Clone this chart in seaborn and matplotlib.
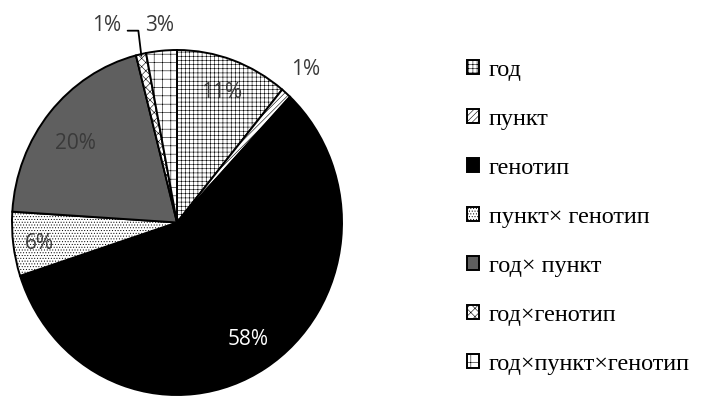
import matplotlib
matplotlib.use("Agg")
import matplotlib.pyplot as plt
import seaborn as sns
import numpy as np

# ---- data ----
categories = ["год", "пункт", "генотип", "пункт× генотип", "год× пункт",
              "год×генотип", "год×пункт×генотип"]
shares = [11, 1, 58, 6, 20, 1, 3]
pct_labels = ["11%", "1%", "58%", "6%", "20%", "1%", "3%"]

# ---- styles ----
face_colors = ["white", "white", "black", "white", "#5f5f5f", "white", "white"]
hatches = ["++++", "//////", None, "......", None, "xxxx", "++"]
label_radius = [0.80, 1.18, 0.80, 0.84, 0.77, 1.22, 1.145]
label_angle_shift = [0, 0, 0, -1, -3, -8, 0]   # degrees (clockwise)
label_colors = ["#3a3a3a", "#3a3a3a", "white", "#3a3a3a", "#3a3a3a", "#3a3a3a", "#3a3a3a"]

sns.set_theme(style="white")
plt.rcParams["font.family"] = ["Open Sans", "DejaVu Sans"]
plt.rcParams["hatch.linewidth"] = 0.4
plt.rcParams["hatch.color"] = "black"

W, H = 704, 397
fig = plt.figure(figsize=(W / 100, H / 100), dpi=100)
fig.patch.set_facecolor("white")

# pie area in pixel coordinates (left, top, right, bottom)
px_l, px_t, px_r, px_b = 12, 50, 342, 395
ax = fig.add_axes([px_l / W, 1 - px_b / H, (px_r - px_l) / W, (px_b - px_t) / H])
ax.set_axis_off()

wedges, _ = ax.pie(shares, startangle=90, counterclock=False, radius=1.0,
                   colors=face_colors,
                   wedgeprops=dict(edgecolor="black", linewidth=1.4))
for w, h in zip(wedges, hatches):
    if h:
        w.set_hatch(h)
ax.set_aspect("auto")
ax.set_xlim(-1, 1)
ax.set_ylim(-1, 1)

# percentage labels placed from wedge geometry
cum = np.cumsum([0] + shares[:-1])
total = float(sum(shares))
for i, (s, c) in enumerate(zip(shares, cum)):
    mid = (c + s / 2) / total * 360 + label_angle_shift[i]   # clockwise from top
    th = np.deg2rad(mid)
    r = label_radius[i]
    x, y = r * np.sin(th), r * np.cos(th)
    ax.text(x, y, pct_labels[i], ha="center", va="center", fontsize=15,
            color=label_colors[i], clip_on=False, zorder=10)
    if i == 5:
        # leader line from label to wedge edge
        mid0 = (c + s / 2) / total * 360
        th0 = np.deg2rad(mid0)
        ex, ey = np.sin(th0) * 0.99, np.cos(th0) * 0.99
        ax.plot([x + 0.13, x + 0.195, ex], [y - 0.03, y - 0.03, ey],
                color="black", lw=1.3, clip_on=False)

leg = fig.legend(wedges, categories, loc="upper left",
                 bbox_to_anchor=(467 / W, 1 - 60 / H),
                 frameon=False, fontsize=17.5,
                 handlelength=0.5, handleheight=0.5, handletextpad=0.4,
                 labelspacing=1.15, borderpad=0, borderaxespad=0)
for t in leg.get_texts():
    t.set_color("black")
    t.set_fontfamily("Liberation Serif")

fig.savefig("out.png", dpi=100, facecolor="white")
